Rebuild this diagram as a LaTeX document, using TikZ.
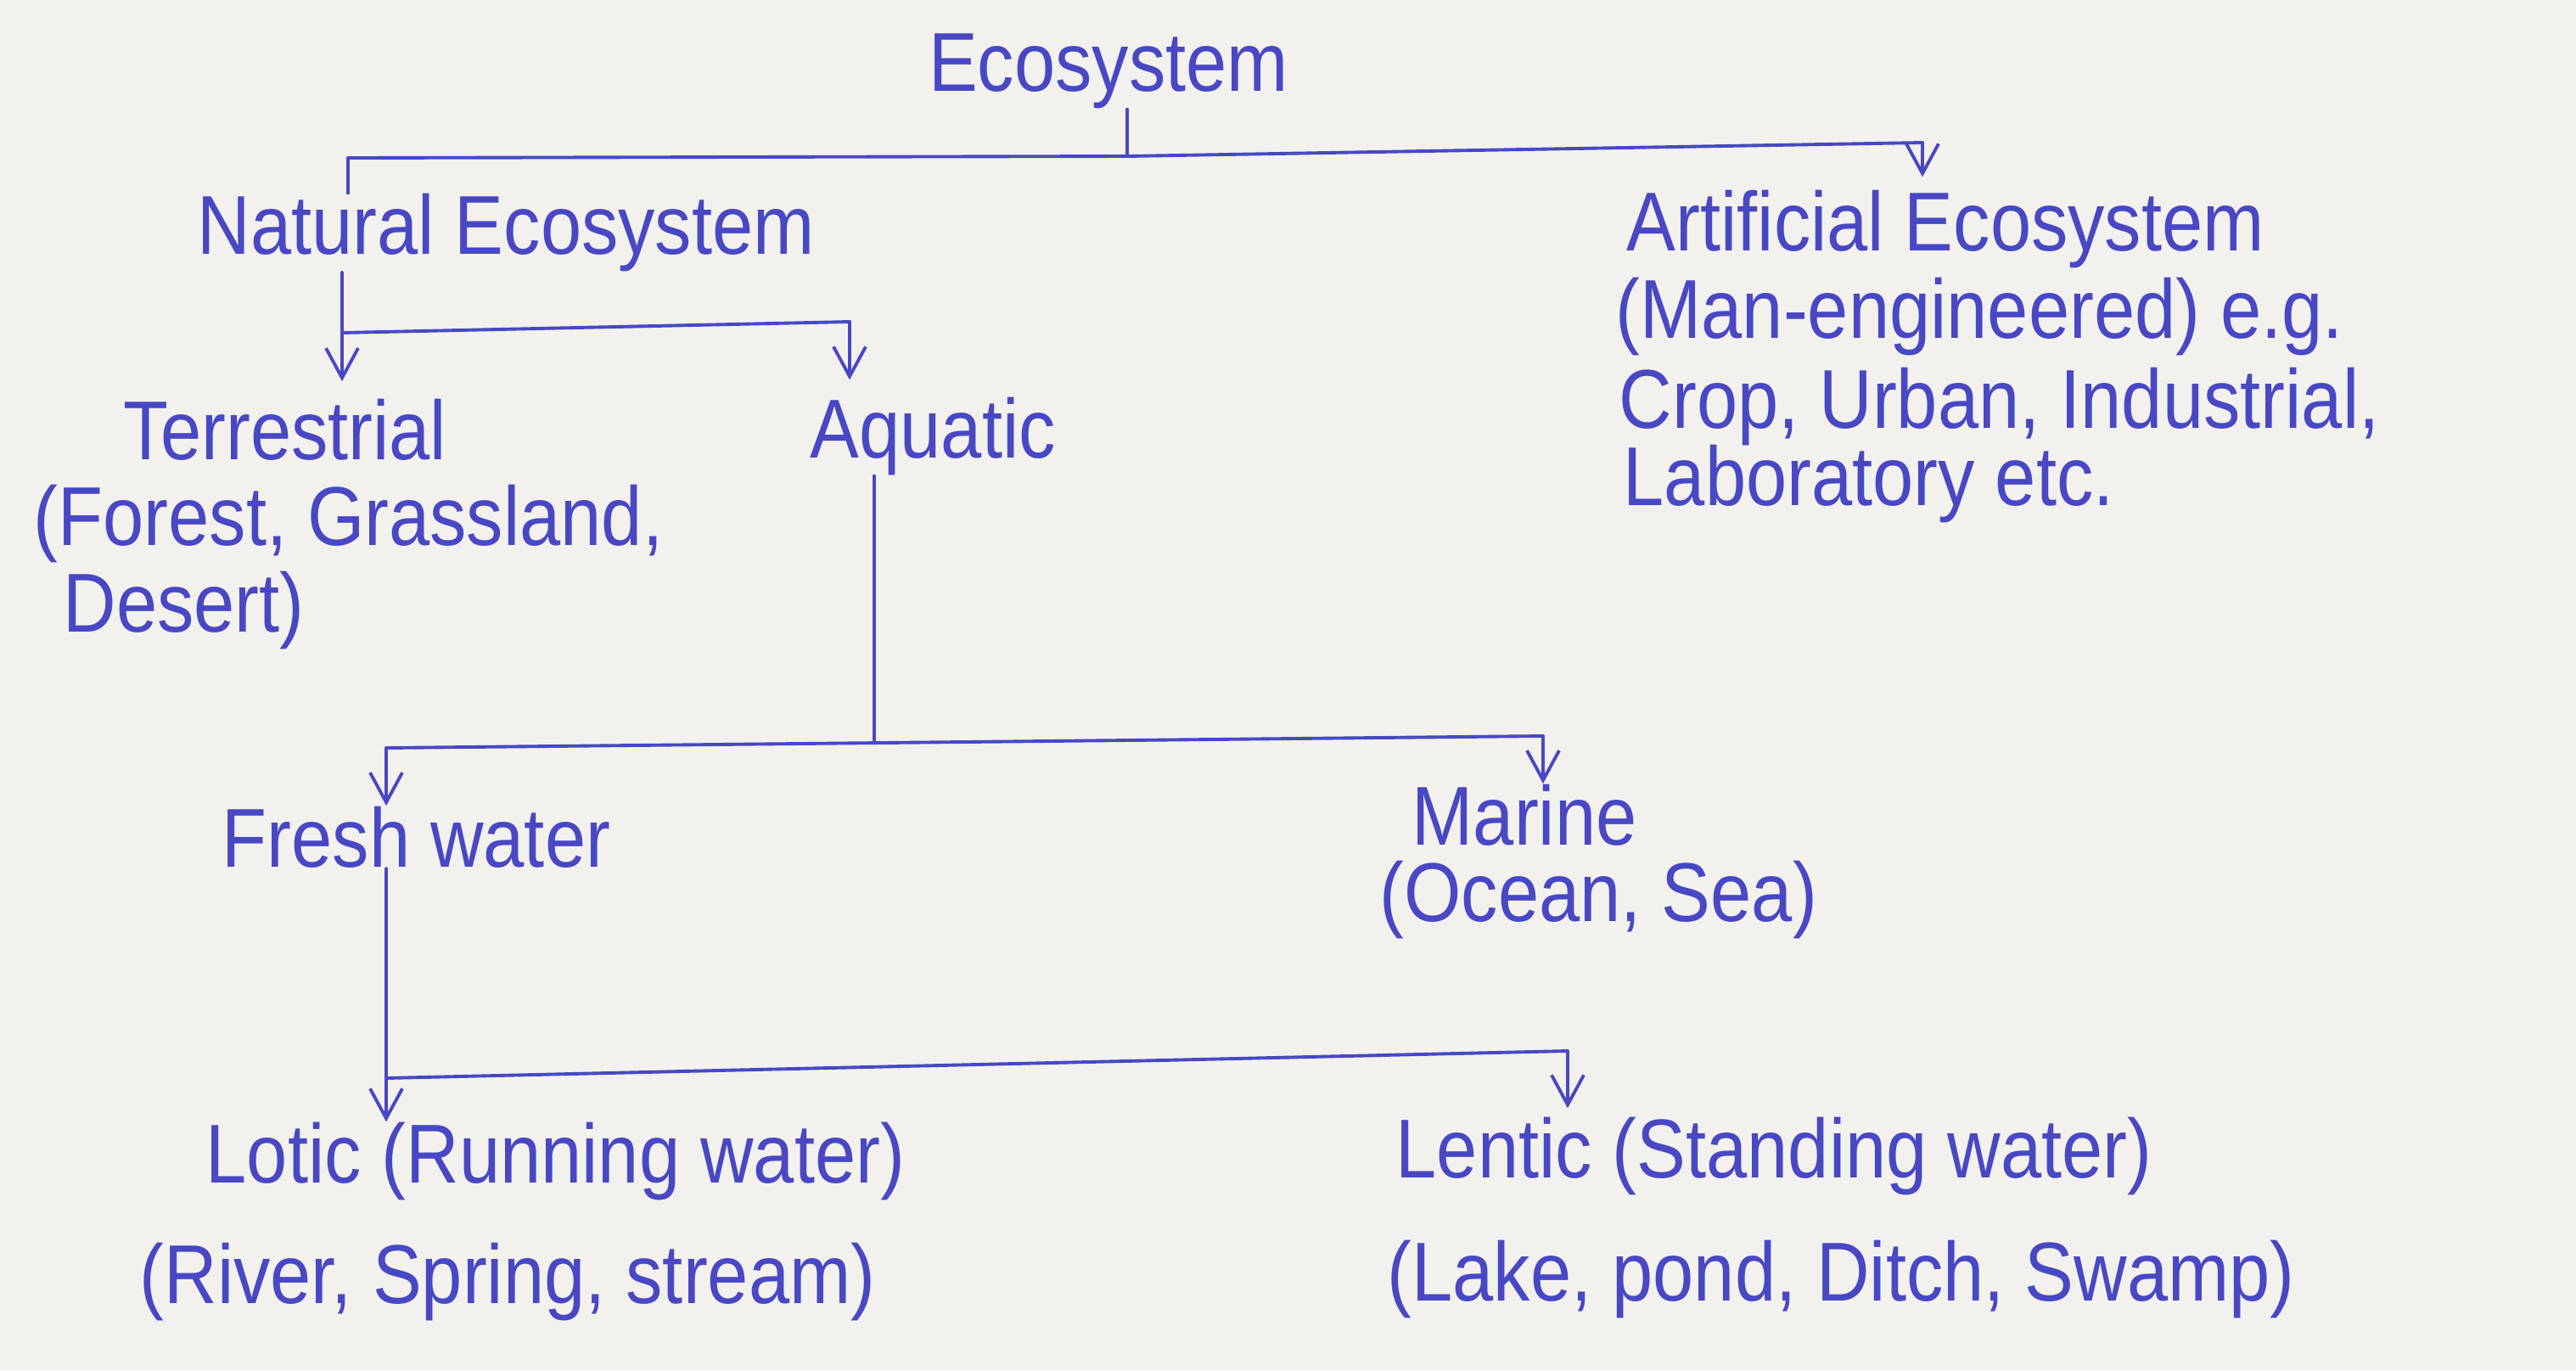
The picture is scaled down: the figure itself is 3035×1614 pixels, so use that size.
\documentclass[tikz,border=0pt]{standalone}
\usepackage{fontspec}
\setmainfont[FakeStretch=0.88]{Liberation Sans}
\usetikzlibrary{arrows.meta}
\definecolor{ink}{RGB}{72,72,196}
\definecolor{paper}{RGB}{243,241,237}
\begin{document}
\begin{tikzpicture}[x=0.01cm,y=-0.01cm,
  lbl/.style={text=ink,font=\fontsize{28}{33}\selectfont,inner sep=0pt,anchor=west},
  link/.style={draw=ink,line width=1.1pt,line cap=round,line join=round},
  arr/.style={link,-{Straight Barb[length=3.5mm,width=3.8mm,line width=1.1pt]}}]
\fill[paper] (0,0) rectangle (3035,1614);
\useasboundingbox (0,0) rectangle (3035,1614);

% nodes
\node[lbl,anchor=center] (eco) at (1306,84) {Ecosystem};
\node[lbl] (nat) at (232,274) {Natural Ecosystem};
\node[lbl] (art1) at (1916,270) {Artificial Ecosystem};
\node[lbl] (art2) at (1903,373) {(Man-engineered) e.g.};
\node[lbl] (art3) at (1907,479) {Crop, Urban, Industrial,};
\node[lbl] (art4) at (1912,570) {Laboratory etc.};
\node[lbl] (ter) at (145,506) {Terrestrial};
\node[lbl] (ter2) at (39,617) {(Forest, Grassland,};
\node[lbl] (ter3) at (74,719) {Desert)};
\node[lbl] (aqu) at (954,514) {Aquatic};
\node[lbl] (fresh) at (261,986) {Fresh water};
\node[lbl] (mar) at (1663,960) {Marine};
\node[lbl] (mar2) at (1625,1060) {(Ocean, Sea)};
\node[lbl] (lotic) at (242,1368) {Lotic (Running water)};
\node[lbl] (lotic2) at (164,1510) {(River, Spring, stream)};
\node[lbl] (lentic) at (1644,1362) {Lentic (Standing water)};
\node[lbl] (lentic2) at (1634,1507) {(Lake, pond, Ditch, Swamp)};

% junction points
\coordinate (j1) at (1328,184);
\coordinate (a1) at (410,186);
\coordinate (b1) at (2265,168);
\coordinate (n1) at (403,392);
\coordinate (n2) at (1001,379);
\coordinate (q0) at (1030,872);
\coordinate (q1) at (455,881);
\coordinate (q2) at (1818,867);
\coordinate (f1) at (455,1270);
\coordinate (f2) at (1847,1238);

% connectors
\draw[link] (eco.south -| j1) -- (j1);
\draw[link] (a1) -- (j1) -- (b1);
\draw[link] (a1) -- (a1 |- nat.north);
\draw[arr,shorten >=1.5mm] (b1) -- (b1 |- art1.north);

\draw[link] (nat.south -| n1) -- (n1) -- (n2);
\draw[arr,shorten >=2mm] (n1) -- (n1 |- ter.north);
\draw[arr,shorten >=2mm] (n2) -- (n2 |- aqu.north);

\draw[link] (aqu.south -| q0) -- (q0);
\draw[link] (q1) -- (q2);
\draw[arr] (q1) -- (q1 |- fresh.north);
\draw[arr] (q2) -- (q2 |- mar.north);

\draw[link] (fresh.south -| f1) -- (f1) -- (f2);
\draw[arr] (f1) -- (f1 |- lotic.north);
\draw[arr,shorten >=1mm] (f2) -- (f2 |- lentic.north);
\end{tikzpicture}
\end{document}
